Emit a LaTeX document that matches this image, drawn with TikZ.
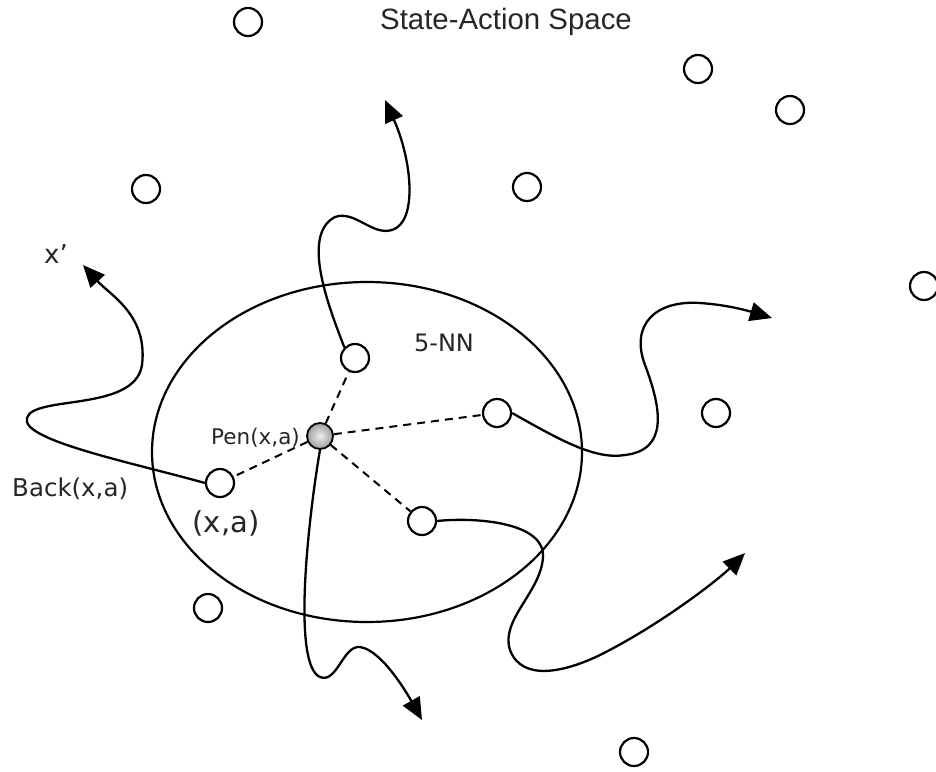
\documentclass[tikz,border=0pt]{standalone}
\usepackage{fontspec}
\usetikzlibrary{arrows.meta}
\newfontfamily\labfont{DejaVu Sans}
\newfontfamily\titlefont{Liberation Sans}
\begin{document}
\begin{tikzpicture}[x=1pt,y=-1pt,
  pt/.style={circle,draw,line width=2.2pt,minimum size=28pt,inner sep=0pt,fill=white},
  centre/.style={circle,draw,line width=1.8pt,minimum size=26pt,inner sep=0pt,
    inner color=gray!15,outer color=gray!75},
  walk/.style={line width=2.3pt,-{Triangle[length=22pt,width=19pt]}},
  nn/.style={line width=2pt,dash pattern=on 8pt off 6pt},
  lab/.style={font=\labfont,text=black!85,inner sep=0pt}]
\useasboundingbox (0,0) rectangle (936,771);

% neighbourhood boundary
\draw[line width=2.2pt] (367,452) ellipse [x radius=215, y radius=170];

% scattered state-action points
\node[pt] (p1) at (248,22) {};
\node[pt] (p2) at (698,69) {};
\node[pt] (p3) at (790,110) {};
\node[pt] (p4) at (146,189) {};
\node[pt] (p5) at (527,187) {};
\node[pt] (p6) at (924,286) {};
\node[pt] (p7) at (716,413) {};
\node[pt] (p8) at (208,608) {};
\node[pt] (p9) at (634,752) {};

% the five nearest neighbours
\node[pt] (n1) at (355,358) {};
\node[pt] (n2) at (497,413) {};
\node[pt] (xa) at (220,483) {};
\node[pt] (n4) at (422,521) {};
\node[centre] (c) at (320,436) {};

% links to the query point
\draw[nn] (c) -- (n1);
\draw[nn] (c) -- (n2);
\draw[nn] (c) -- (xa);
\draw[nn] (c) -- (n4);

% trajectory end points
\coordinate (t1) at (83,265);
\coordinate (t2) at (385,100);
\coordinate (t3) at (772,318);
\coordinate (t4) at (422,720);
\coordinate (t5) at (745,553);

% wandering trajectories
\draw[walk] (xa.west) .. controls (130,462) and (20,440) .. (27,418)
  .. controls (33,395) and (135,412) .. (142,365)
  .. controls (148,315) and (110,295) .. (t1);
\draw[walk] (n1.north west) .. controls (330,310) and (300,235) .. (335,217)
  .. controls (355,210) and (372,236) .. (392,230)
  .. controls (418,222) and (412,160) .. (t2);
\draw[walk] (n2.east) .. controls (560,440) and (595,460) .. (625,455)
  .. controls (668,450) and (662,410) .. (645,365)
  .. controls (630,325) and (655,300) .. (700,303)
  .. controls (730,305) and (752,312) .. (t3);
\draw[walk] (c.south) .. controls (308,520) and (292,665) .. (320,677)
  .. controls (337,684) and (343,645) .. (360,647)
  .. controls (382,650) and (408,695) .. (t4);
\draw[walk] (n4.east) .. controls (475,517) and (545,522) .. (543,557)
  .. controls (541,592) and (500,620) .. (510,650)
  .. controls (522,682) and (565,672) .. (600,655)
  .. controls (660,625) and (718,580) .. (t5);

% labels
\node[text=black!85,font=\titlefont\fontsize{29.4}{32}\selectfont] (title) at (506,22) {State-Action Space};
\node[lab,font=\labfont\fontsize{24}{26}\selectfont] (knn) at (444,343) {5-NN};
\node[lab,font=\labfont\fontsize{21.5}{24}\selectfont,anchor=east] (pen) at (300,438) {Pen(x,a)};
\node[lab,font=\labfont\fontsize{24.5}{27}\selectfont,anchor=west] (back) at (12,489) {Back(x,a)};
\node[lab,font=\labfont\fontsize{29}{31}\selectfont] (xal) at (226,523) {(x,a)};
\node[lab,font=\labfont\fontsize{26}{28}\selectfont] (xp) at (56,254) {x’};
\end{tikzpicture}
\end{document}
